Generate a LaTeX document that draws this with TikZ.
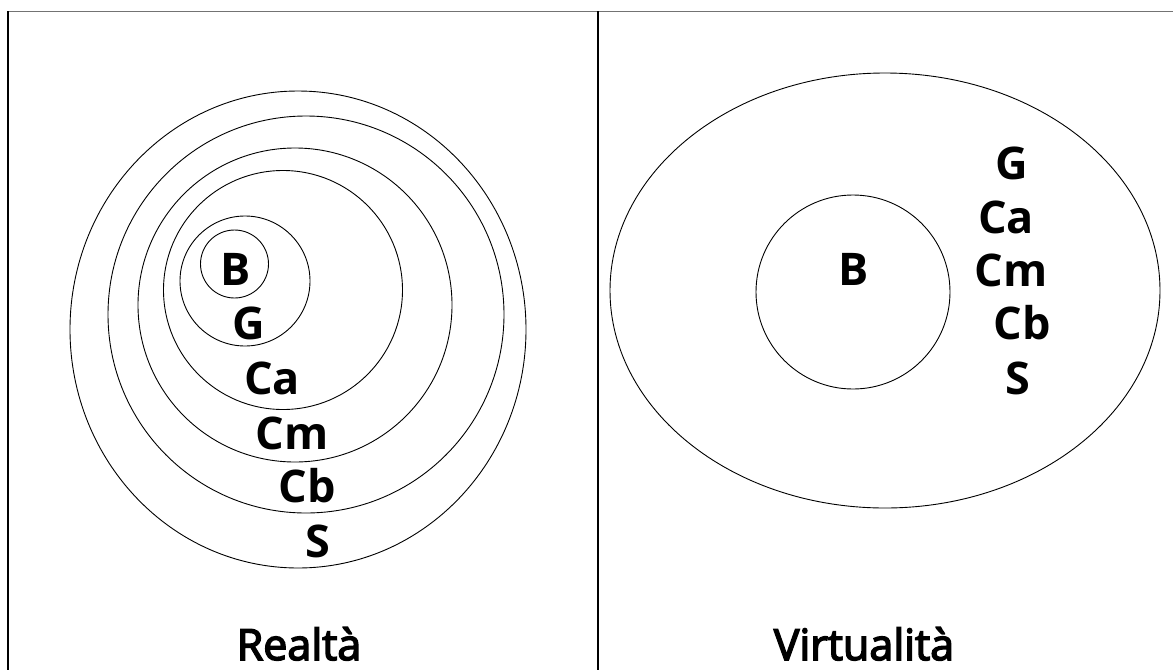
\documentclass[tikz,border=0pt]{standalone}
\usepackage{fontspec}
\setmainfont{Open Sans}
\newfontfamily\titlefont{Open Sans}[FakeBold=3.5]
\begin{document}
\begin{tikzpicture}[x=1pt,y=-1pt,
  ring/.style={draw=black,line width=0.9pt},
  tag/.style={font=\fontsize{45}{45}\selectfont\bfseries,inner sep=0pt},
  title/.style={font=\fontsize{43}{43}\selectfont\titlefont,inner sep=0pt,anchor=base},
  frame/.style={line width=1.2pt}]
\useasboundingbox (0,0) rectangle (1173,670);
% panel frame
\draw[frame,draw=black!55] (8,11.5) -- (1173,11.5);
\draw[frame] (8,11) -- (8,670);
\draw[frame] (598,11) -- (598,670);

% left panel: nested levels
\draw[ring] (298,329.5) ellipse [x radius=228,y radius=238.5];
\draw[ring] (306,314.5) ellipse [x radius=198,y radius=198.5];
\draw[ring] (295,305) circle [radius=157];
\draw[ring] (283,290) circle [radius=119.5];
\draw[ring] (245,281) circle [radius=65];
\draw[ring] (234.5,264) circle [radius=34];

\node[tag] (lB)  at (236,269) {B};
\node[tag] (lG)  at (249,323) {G};
\node[tag] (lCa) at (272,378) {Ca};
\node[tag] (lCm) at (292,433) {Cm};
\node[tag] (lCb) at (307,486) {Cb};
\node[tag] (lS)  at (318,541) {S};
\node[title] (real) at (299,660) {Realtà};

% right panel: the core inside one undivided field
\draw[ring] (885,290.5) ellipse [x radius=275,y radius=217.5];
\draw[ring] (853,292) circle [radius=97];

\node[tag] (rB)  at (854,269) {B};
\node[tag] (rG)  at (1012,163) {G};
\node[tag] (rCa) at (1006,217) {Ca};
\node[tag] (rCm) at (1011,270) {Cm};
\node[tag] (rCb) at (1022,323) {Cb};
\node[tag] (rS)  at (1018,378) {S};
\node[title] (virt) at (864,660) {Virtualità};
\end{tikzpicture}
\end{document}
